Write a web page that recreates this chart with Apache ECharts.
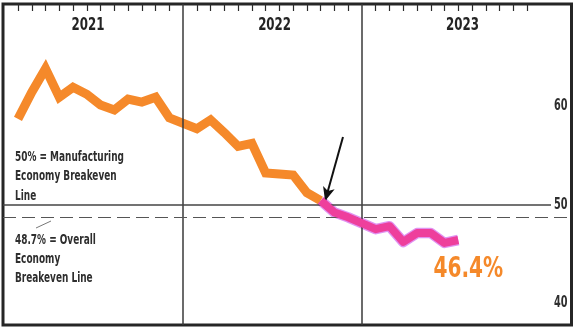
<!DOCTYPE html>
<html>
<head>
<meta charset="utf-8">
<script src="https://cdn.jsdelivr.net/npm/echarts@6/dist/echarts.min.js"></script>
<style>
  html, body { margin: 0; padding: 0; background: #fff; }
  #chart { width: 575px; height: 332px; }
</style>
</head>
<body>
<div id="chart"></div>
<script>
// Monthly index readings, Jan 2021 - Jul 2023
const months = [
  '2021-01','2021-02','2021-03','2021-04','2021-05','2021-06',
  '2021-07','2021-08','2021-09','2021-10','2021-11','2021-12',
  '2022-01','2022-02','2022-03','2022-04','2022-05','2022-06',
  '2022-07','2022-08','2022-09','2022-10','2022-11','2022-12',
  '2023-01','2023-02','2023-03','2023-04','2023-05','2023-06','2023-07'
];
const pmi = [
  58.7, 61.4, 63.8, 60.9, 61.9, 61.2, 60.1, 59.6, 60.7, 60.4, 60.9, 58.8,
  57.7, 58.6, 57.3, 55.9, 56.2, 53.2, 53.1, 53.0, 51.2, 50.4, 49.2, 48.7,
  47.5, 47.8, 46.2, 47.1, 47.1, 46.1, 46.4
];
const yearLabels = ['2021', '2022', '2023'];
const yTickLabels = [40, 50, 60];
const manufacturingBreakeven = 50;
const overallBreakeven = 48.7;
const highlightStart = '2022-10';

// Each year occupies 13 slots on the x scale; months sit on slots 1..12
const FONT = '"DejaVu Sans Condensed", "DejaVu Sans", sans-serif';
const SQUEEZE = 0.73;           // horizontal squeeze for the condensed headline face
const ORANGE = '#f5892a';
const PINK = '#ee3f9c';
const INK = '#242424';
function slot(label) {
  const y = +label.slice(0, 4), m = +label.slice(5, 7);
  return 13 * (y - 2021) + m;
}
const points = months.map((m, i) => [slot(m), pmi[i]]);
const cut = months.indexOf(highlightStart);
const earlyPts = points.slice(0, cut + 1);
const latePts = points.slice(cut);
const lastPt = points[points.length - 1];

const tickSlots = [];
for (let y = 0; y < 3; y++) for (let m = 1; m <= 12; m++) tickSlots.push(13 * y + m);
const yearLabelSlots = [6.09, 19.65, 33.31];
const X_MIN = -0.09, X_MAX = 41.23;

const chart = echarts.init(document.getElementById('chart'), null, { renderer: 'canvas' });
chart.setOption({
  animation: false,
  grid: { left: 3, right: 3.5, top: 4, bottom: 7, show: true, borderColor: '#262626', borderWidth: 3, backgroundColor: 'transparent' },
  xAxis: {
    type: 'value', position: 'top', min: X_MIN, max: X_MAX,
    axisLine: { show: false },
    splitLine: { show: false },
    axisTick: { show: true, inside: true, length: 7, customValues: tickSlots, lineStyle: { color: '#2a2a2a', width: 1.2 } },
    axisLabel: { show: false }
  },
  yAxis: {
    type: 'value', position: 'right', min: 37.77, max: 70.36,
    axisLine: { show: false }, axisTick: { show: false }, splitLine: { show: false },
    axisLabel: { show: false }
  },
  series: [
    {
      // reference lines: year dividers and breakeven levels
      type: 'line', data: [], z: 1, silent: true,
      markLine: {
        silent: true, symbol: 'none', animation: false,
        label: { show: false },
        data: [
          { xAxis: 13, lineStyle: { color: '#3a3a3a', width: 1.5, type: 'solid' } },
          { xAxis: 26, lineStyle: { color: '#3a3a3a', width: 1.5, type: 'solid' } },
          [
            { coord: [X_MIN, manufacturingBreakeven], lineStyle: { color: '#444', width: 1.5, type: 'solid' } },
            { coord: [39.74, manufacturingBreakeven] }
          ],
          { yAxis: overallBreakeven, lineStyle: { color: '#555', width: 1, type: [13, 6] } }
        ]
      }
    },
    {
      type: 'line', data: earlyPts, z: 3, symbol: 'none',
      lineStyle: { color: ORANGE, width: 9, join: 'miter', miterLimit: 10, cap: 'butt' }
    },
    {
      // soft violet halo under the highlighted stretch
      type: 'line', data: latePts, z: 4, symbol: 'none',
      lineStyle: { color: 'rgba(214,110,236,0.75)', width: 10.5, join: 'round' }
    },
    {
      type: 'line', data: latePts, z: 5, symbol: 'none',
      lineStyle: { color: PINK, width: 8, join: 'round' },
      markLine: {
        silent: true, animation: false, label: { show: false },
        data: [[
          { coord: [24.62, 56.85], symbol: 'none' },
          { coord: [23.32, 50.36], symbol: 'arrow', symbolSize: [9, 14] }
        ]],
        lineStyle: { color: '#111', width: 2, type: 'solid' },
        itemStyle: { color: '#111' }
      }
    }
  ]
});

// Text layer, placed through the chart's own axes
function condensedText(x, y, text, opts) {
  return {
    type: 'text', x: x, y: y, scaleX: opts.scaleX || SQUEEZE, z: 10, silent: true,
    style: Object.assign({
      text: text, fill: INK, fontSize: 14, fontWeight: 'bold', fontFamily: FONT,
      textAlign: 'left', textVerticalAlign: 'middle'
    }, opts.style || {})
  };
}
const graphics = [];
yearLabels.forEach((label, i) => {
  const x = chart.convertToPixel({ xAxisIndex: 0 }, yearLabelSlots[i]);
  graphics.push(condensedText(x, 25, label, { style: { fontSize: 18, textAlign: 'center' } }));
});
const rightEdge = chart.convertToPixel({ xAxisIndex: 0 }, X_MAX) - 4;
yTickLabels.forEach((v) => {
  const y = chart.convertToPixel({ yAxisIndex: 0 }, v);
  graphics.push(condensedText(rightEdge, y + 0.5, String(v), { scaleX: 0.72, style: { fontSize: 15, textAlign: 'right', fill: '#2e2e2e' } }));
});
const lastPx = chart.convertToPixel({ xAxisIndex: 0, yAxisIndex: 0 }, lastPt);
graphics.push(condensedText(lastPx[0] + 10, lastPx[1] + 29, lastPt[1].toFixed(1) + '%', {
  scaleX: 0.77, style: { fontSize: 29, textAlign: 'center', fill: ORANGE }
}));
graphics.push({
  type: 'text', x: 15, y: 147.5, scaleX: 0.71, z: 10, silent: true,
  style: { text: '50% = Manufacturing\nEconomy Breakeven\nLine', fill: '#2e2e2e', fontSize: 14, fontWeight: 'bold', fontFamily: FONT, lineHeight: 19.5, textVerticalAlign: 'top' }
});
graphics.push({
  type: 'text', x: 15, y: 231, scaleX: 0.71, z: 10, silent: true,
  style: { text: '48.7% = Overall\nEconomy\nBreakeven Line', fill: '#2e2e2e', fontSize: 14, fontWeight: 'bold', fontFamily: FONT, lineHeight: 19, textVerticalAlign: 'top' }
});
graphics.push({
  type: 'line', shape: { x1: 36, y1: 228, x2: 51, y2: 221 }, silent: true,
  style: { stroke: '#777', lineWidth: 1 }
});
chart.setOption({ graphic: graphics });
</script>
</body>
</html>
